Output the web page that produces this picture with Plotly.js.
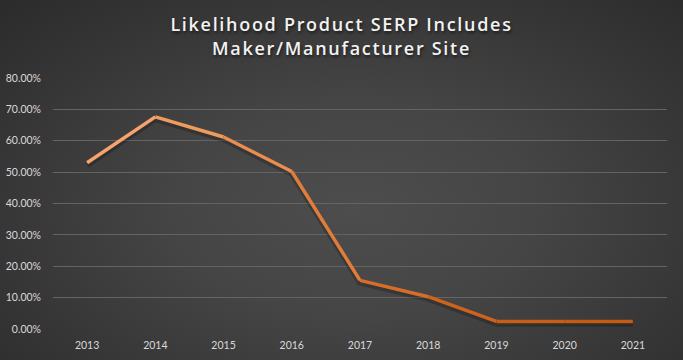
<!DOCTYPE html>
<html>
<head>
<meta charset="utf-8">
<script src="https://cdn.plot.ly/plotly-3.0.1.min.js"></script>
<style>
html,body{margin:0;padding:0;width:683px;height:360px;overflow:hidden;
background: radial-gradient(ellipse 75% 85% at 52% 58%, #4d4d4d 0%, #454545 35%, #363636 70%, #2a2a2a 100%);}
#chart{width:683px;height:360px;}
.gtitle{letter-spacing:1.7px;}
</style>
</head>
<body>
<div id="chart"></div>
<script>
const years = ['2013','2014','2015','2016','2017','2018','2019','2020','2021'];
const share = [0.53, 0.676, 0.612, 0.502, 0.155, 0.103, 0.024, 0.024, 0.024];
const tickVals = [0,0.1,0.2,0.3,0.4,0.5,0.6,0.7,0.8];
const tickText = ['0.00%','10.00%','20.00%','30.00%','40.00%','50.00%','60.00%','70.00%','80.00%'];
const segColors = ['#F4A46C','#F09B5E','#EA8D4E','#E07D3A','#D66D28','#CF631B','#C95D15','#C55A11'];

const traces = [];
// soft shadow (drawn on base axis, slightly offset)
traces.push({x: years, y: share, type:'scatter', mode:'lines',
  line:{color:'rgba(0,0,0,0.22)', width:6}, hoverinfo:'skip', showlegend:false, yaxis:'y'});
for (let i = 0; i < years.length - 1; i++) {
  traces.push({
    x: years.slice(i, i+2), y: share.slice(i, i+2),
    type:'scatter', mode:'lines',
    line:{color: segColors[i], width:3.5},
    hoverinfo:'skip', showlegend:false, yaxis:'y2'
  });
}

const tf = {family:'Lato, sans-serif', size:10.5, color:'#d9d9d9'};
const layout = {
  width:683, height:360,
  paper_bgcolor:'rgba(0,0,0,0)', plot_bgcolor:'rgba(0,0,0,0)',
  margin:{l:53, r:16, t:78, b:31},
  title:{text:'Likelihood Product SERP Includes<br>Maker/Manufacturer Site',
    font:{family:'Open Sans, sans-serif', size:18, color:'#f2f2f2', weight:600,
      shadow:'1px 2px 3px rgba(0,0,0,0.55)'},
    x:0.5, xanchor:'center', xref:'container', yref:'container', y:0.913, yanchor:'middle'},
  xaxis:{type:'category', range:[-0.5, 8.5], showgrid:false, zeroline:false, showline:false,
    tickfont:tf, ticks:'', ticklen:0, ticklabelstandoff:8},
  yaxis:{range:[0.007,0.807], showgrid:false, zeroline:false, showline:false,
    showticklabels:false, ticks:''},
  yaxis2:{range:[0,0.8], overlaying:'y', side:'left', tickvals:tickVals, ticktext:tickText,
    gridcolor:'#646464', gridwidth:1, zeroline:false, showline:false, ticks:'',
    ticklabelstandoff:11, tickfont:tf},
  showlegend:false
};
Plotly.newPlot('chart', traces, layout, {displayModeBar:false, staticPlot:true});
</script>
</body>
</html>
